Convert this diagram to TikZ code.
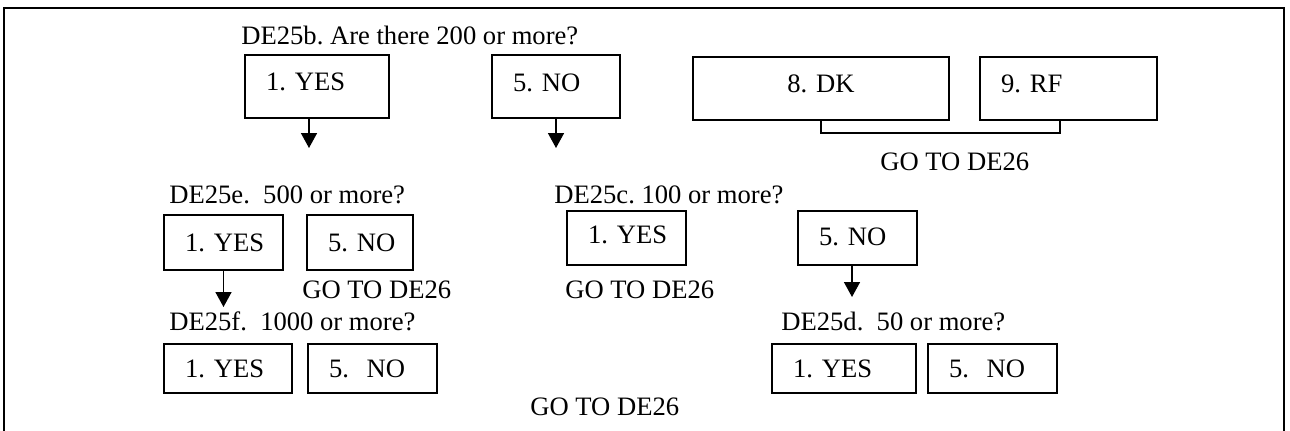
\documentclass[tikz,border=0pt]{standalone}
\usepackage{fontspec}
\setmainfont{Liberation Serif}
\usetikzlibrary{arrows.meta,calc}
\frenchspacing
\tikzset{
  every node/.style={font=\fontsize{13.3}{16}\selectfont},
  bx/.style={draw, line width=0.9pt, rectangle, inner xsep=10.5pt, inner ysep=0pt, align=left},
  lbl/.style={inner sep=0pt, anchor=base west},
  arr/.style={line width=0.8pt, -{Triangle[width=8pt,length=7.5pt]}},
  frame/.style={line width=1pt},
  brk/.style={line width=0.85pt}
}
\begin{document}
\begin{tikzpicture}[x=0.5pt,y=-0.5pt]
\useasboundingbox (0,0) rectangle (1290,430);
\draw[frame] (4,440) -- (4,8) -- (1284,8) -- (1284,440);

% top row
\node[lbl] (q1) at (241,44) {DE25b. Are there 200 or more?};
\node[bx, minimum width=72pt, minimum height=31.5pt, text width=51pt, text depth=5pt] (yes1) at (317,86.5) {1.~YES};
\node[bx, minimum width=64pt, minimum height=31.5pt, text width=43pt, text depth=4pt] (no1) at (556,86.5) {5.~NO};
\node[bx, minimum width=128pt, minimum height=31.5pt, text width=107pt, align=center, text depth=5pt] (dk) at (821,88.5) {8.~DK};
\node[bx, minimum width=88.5pt, minimum height=31.5pt, text width=67.5pt, text depth=5pt] (rf) at (1068.5,88.5) {9.~RF};
\draw[brk] (dk.south) -- ++(0,12) -| ([xshift=40.5pt]rf.south west);
\node[lbl] (g1) at (880,170) {GO TO DE26};

\coordinate (e1) at (309,148);
\coordinate (e2) at (556,148);
\draw[arr] (yes1.south -| e1) -- (e1);
\draw[arr] (no1.south) -- (e2);

% middle row
\node[lbl] (qe) at (169,203) {DE25e.\ \ 500 or more?};
\node[lbl] (qc) at (554,203) {DE25c. 100 or more?};
\node[bx, minimum width=59.5pt, minimum height=27.5pt, text width=38.5pt] (yes2) at (223.5,242.5) {1.~YES};
\node[bx, minimum width=53pt, minimum height=27.5pt, text width=32pt] (no2) at (360,242.5) {5.~NO};
\node[bx, minimum width=59.5pt, minimum height=27pt, text width=38.5pt, text depth=3pt] (yes3) at (626.5,238) {1.~YES};
\node[bx, minimum width=59.5pt, minimum height=27pt, text width=38.5pt, text depth=1pt] (no3) at (857.5,238) {5.~NO};
\node[lbl] (g2) at (302,298) {GO TO DE26};
\node[lbl] (g3) at (565,298) {GO TO DE26};

\coordinate (e3) at (223.5,307);
\coordinate (e4) at (852,297);
\draw[arr] (yes2.south) -- (e3);
\draw[arr] (no3.south -| e4) -- (e4);

% bottom row
\node[lbl] (qf) at (169,330) {DE25f.\ \ 1000 or more?};
\node[lbl] (qd) at (781,330) {DE25d.\ \ 50 or more?};
\node[bx, minimum width=64pt, minimum height=24.5pt, text width=43pt] (yes4) at (228,368.5) {1.~YES};
\node[bx, minimum width=64.5pt, minimum height=24.5pt, text width=43.5pt] (no4) at (372.5,368.5) {5.~~NO};
\node[bx, minimum width=72pt, minimum height=24.5pt, text width=51pt] (yes5) at (844,368.5) {1.~YES};
\node[bx, minimum width=64.5pt, minimum height=24.5pt, text width=43.5pt] (no5) at (992.5,368.5) {5.~~NO};
\node[lbl] (g4) at (530,415) {GO TO DE26};
\end{tikzpicture}
\end{document}
